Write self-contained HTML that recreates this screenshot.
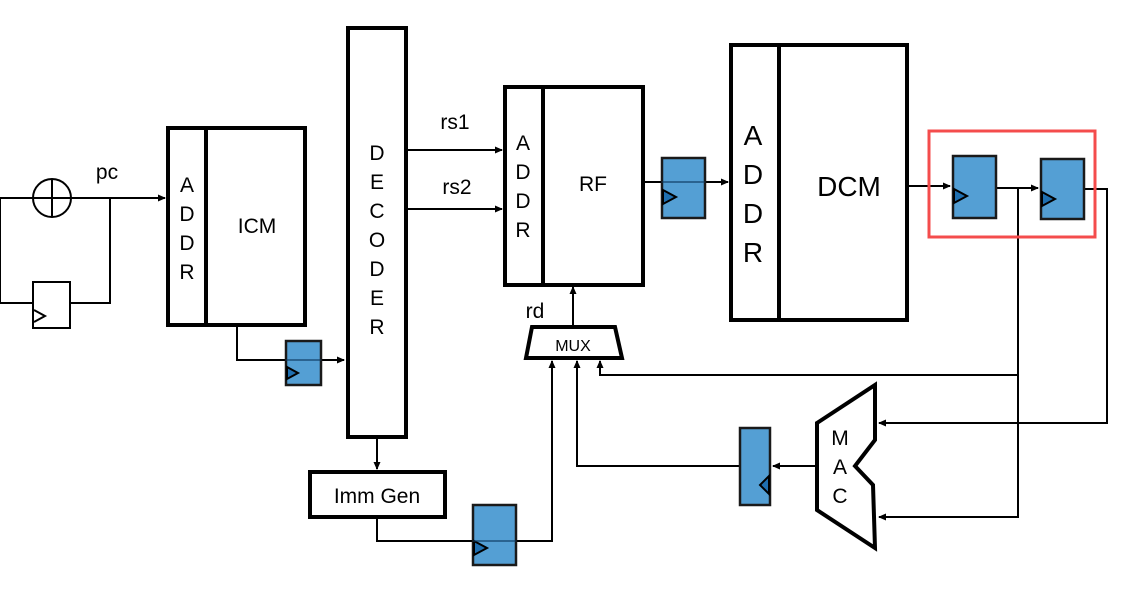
<!DOCTYPE html>
<html><head><meta charset="utf-8"><style>
html,body{margin:0;padding:0;background:#fff;}
svg{display:block;}
text{font-family:"Liberation Sans","Noto Sans CJK SC",sans-serif;fill:#000;text-anchor:middle;}
</style></head><body>
<svg width="1130" height="600" viewBox="0 0 1130 600" xmlns="http://www.w3.org/2000/svg">
<defs>
<marker id="a" markerWidth="8" markerHeight="8" refX="7" refY="4" orient="auto" markerUnits="userSpaceOnUse">
<path d="M0,0.5 L8,4 L0,7.5 z" fill="#000"/></marker>
</defs>
<g fill="none" stroke="#000" stroke-width="2">
<line x1="0" y1="198" x2="165" y2="198" marker-end="url(#a)"/>
<polyline points="0,198 0,303 33,303"/>
<polyline points="70,303 110,303 110,198"/>
<circle cx="52" cy="198" r="19" fill="#fff"/>
<line x1="33" y1="198" x2="71" y2="198"/>
<line x1="52" y1="179" x2="52" y2="217"/>
<rect x="33" y="282" width="37" height="46" fill="#fff"/>
<polyline points="34,310 45,316 34,322"/>
<polyline points="237,325 237,360 344,360" marker-end="url(#a)"/>
<line x1="377" y1="437" x2="377" y2="469" marker-end="url(#a)"/>
<line x1="405" y1="150" x2="502" y2="150" marker-end="url(#a)"/>
<line x1="405" y1="209" x2="502" y2="209" marker-end="url(#a)"/>
<polyline points="377,517 377,541 552,541 552,361" marker-end="url(#a)"/>
<line x1="573" y1="327" x2="573" y2="287" marker-end="url(#a)"/>
<line x1="643" y1="182" x2="728" y2="182" marker-end="url(#a)"/>
<line x1="907" y1="186" x2="950" y2="186" marker-end="url(#a)"/>
<line x1="996" y1="188" x2="1038" y2="188" marker-end="url(#a)"/>
<polyline points="1084,189 1107,189 1107,423 879,423" marker-end="url(#a)"/>
<polyline points="1018,188 1018,517 879,517" marker-end="url(#a)"/>
<polyline points="1018,375 600,375 600,361" marker-end="url(#a)"/>
<line x1="817" y1="466" x2="773" y2="466" marker-end="url(#a)"/>
<polyline points="740,466 577,466 577,361" marker-end="url(#a)"/>
</g>
<g fill="#fff" stroke="#000" stroke-width="4">
<rect x="168" y="128" width="137" height="197"/>
<line x1="206" y1="128" x2="206" y2="325"/>
<rect x="348" y="28" width="58" height="409"/>
<rect x="310" y="472" width="135" height="45"/>
<rect x="505" y="87" width="138" height="198"/>
<line x1="543" y1="87" x2="543" y2="285"/>
<rect x="731" y="45" width="176" height="275"/>
<line x1="779" y1="45" x2="779" y2="320"/>
<polygon points="532,327 615,327 622,358 526,358"/>
<polygon points="817,423 875,385 875,440 855,466 873,485 875,548 817,510"/>
</g>
<rect x="929" y="131" width="166" height="106" fill="none" stroke="#f44c4c" stroke-width="3"/>
<g fill="#4b9ad2" fill-opacity="0.95" stroke="#1a1a1a" stroke-width="2.5">
<rect x="286" y="341" width="35" height="44"/>
<rect x="473" y="505" width="43" height="60"/>
<rect x="662" y="158" width="43" height="60"/>
<rect x="953" y="156" width="43" height="62"/>
<rect x="1041" y="159" width="43" height="60"/>
<rect x="740" y="428" width="30" height="77"/>
</g>
<g fill="#1f6fb0" stroke="#000" stroke-width="2">
<polygon points="287,367 298,373 287,379"/>
<polygon points="474,541 487,548 474,555"/>
<polygon points="663,190 676,197 663,204"/>
<polygon points="954,189 967,196 954,203"/>
<polygon points="1042,192 1055,199 1042,206"/>
<polygon points="769,476 760,485 769,494"/>
</g>
<g stroke="#103a60" stroke-width="1.5" stroke-opacity="0.7">
<line x1="286" y1="360" x2="321" y2="360"/>
<line x1="473" y1="541" x2="516" y2="541"/>
<line x1="662" y1="182" x2="705" y2="182"/>
</g>
<g font-size="21">
<text x="107" y="179">pc</text>
<text x="187" y="192">A</text><text x="187" y="221">D</text><text x="187" y="250">D</text><text x="187" y="279">R</text>
<text x="257" y="233">ICM</text>
<text x="377" y="160">D</text><text x="377" y="189">E</text><text x="377" y="218">C</text><text x="377" y="247">O</text><text x="377" y="276">D</text><text x="377" y="305">E</text><text x="377" y="334">R</text>
<text x="455" y="129">rs1</text><text x="457" y="194">rs2</text>
<text x="523" y="150">A</text><text x="523" y="179">D</text><text x="523" y="208">D</text><text x="523" y="237">R</text>
<text x="593" y="191">RF</text>
<text x="535" y="318">rd</text>
<text x="377" y="503">Imm Gen</text>
<text x="840" y="445">M</text><text x="840" y="474">A</text><text x="840" y="503">C</text>
</g>
<text x="573" y="351" font-size="16">MUX</text>
<g font-size="28">
<text x="753" y="145">A</text><text x="753" y="184">D</text><text x="753" y="223">D</text><text x="753" y="262">R</text>
<text x="849" y="196">DCM</text>
</g>
</svg>
</body></html>
